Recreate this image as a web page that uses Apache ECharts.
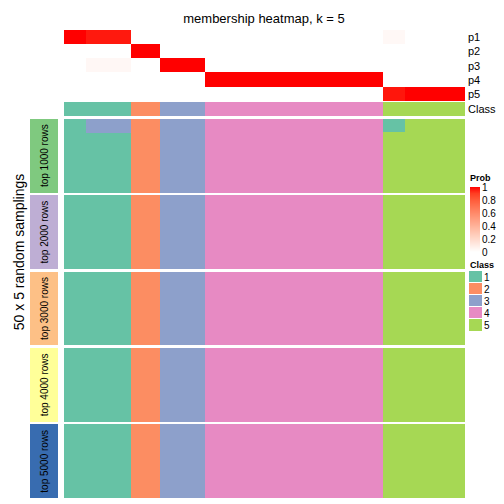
<!DOCTYPE html>
<html><head><meta charset="utf-8">
<script src="https://cdn.jsdelivr.net/npm/echarts@6/dist/echarts.min.js"></script>
<style>html,body{margin:0;padding:0;background:#fff}#c{width:504px;height:504px}#c svg path{shape-rendering:crispEdges}</style>
</head><body><div id="c"></div>
<script>
// ---- data ----
const groupSizes = [3, 6, 4, 6, 24, 3, 8];          // number of samples in each column group (54 total)
const groupClass = [1, 1, 2, 3, 4, 5, 5];           // predicted class per group
const p1 = [1, 0.96, 0, 0, 0, 0.036, 0];            // membership probabilities per group
const p2 = [0, 0, 1, 0, 0, 0, 0];
const p3 = [0, 0.04, 0, 1, 0, 0, 0];
const p4 = [0, 0, 0, 0, 1, 0, 0];
const p5 = [0, 0, 0, 0, 0, 0.964, 1];
const probRows = ['p1', 'p2', 'p3', 'p4', 'p5'];
const blockLabels = ['top 1000 rows', 'top 2000 rows', 'top 3000 rows', 'top 4000 rows', 'top 5000 rows'];
const nSamplings = 50;
// deviations: [block, group, number of samplings (from top), class assigned]
const deviations = [[0, 1, 10, 3], [0, 5, 9, 1]];
const classLabels = ['1', '2', '3', '4', '5'];

// ---- styles ----
const classColors = ['#66C2A5', '#FC8D62', '#8DA0CB', '#E78AC3', '#A6D854'];
const blockColors = ['#7FC97F', '#BEAED4', '#FDC086', '#FFFF99', '#386CB0'];
const probColors = ['#FFFFFF', '#FFECE5', '#FFD9CB', '#FFC6B2', '#FFB299', '#FF9E81', '#FF8969', '#FF7352', '#FF5B3A', '#FF3E22', '#FF0000'];
const FONT = '"Liberation Sans", Arial, Helvetica, sans-serif';

const colGroup = [];
groupSizes.forEach((n, g) => { for (let i = 0; i < n; i++) colGroup.push(g); });
const xCats = colGroup.map((_, i) => i);
const probArr = [p1, p2, p3, p4, p5];

const grids = [], xAxes = [], yAxes = [], series = [];
function hiddenX(gi, data) { xAxes.push({ type: 'category', gridIndex: gi, data: data, show: false }); return xAxes.length - 1; }

// membership grid
grids.push({ left: 64, top: 30, width: 401, height: 71 });
const mx = hiddenX(0, xCats);
yAxes.push({ type: 'category', gridIndex: 0, data: probRows, inverse: true, position: 'right',
  axisLine: { show: false }, axisTick: { show: false },
  axisLabel: { interval: 0, fontSize: 11, color: '#000', margin: 3, fontFamily: FONT } });
const memData = [];
xCats.forEach(c => probArr.forEach((p, r) => memData.push([c, r, p[colGroup[c]]])));
series.push({ type: 'heatmap', xAxisIndex: mx, yAxisIndex: 0, data: memData, progressive: 0, emphasis: { disabled: true } });

// class row
grids.push({ left: 64, top: 102, width: 401, height: 14 });
const cx = hiddenX(1, xCats);
yAxes.push({ type: 'category', gridIndex: 1, data: ['Class'], position: 'right',
  axisLine: { show: false }, axisTick: { show: false },
  axisLabel: { interval: 0, fontSize: 11, color: '#000', margin: 3, fontFamily: FONT } });
series.push({ type: 'heatmap', xAxisIndex: cx, yAxisIndex: 1, data: xCats.map(c => [c, 0, groupClass[colGroup[c]]]), progressive: 0, emphasis: { disabled: true } });

// consensus blocks
const blockTops = [119, 195.4, 271.8, 348.2, 424.6];
const blockH = 73.4;
const rowCats = Array.from({ length: nSamplings }, (_, i) => i);
const classSeries = [1];
blockTops.forEach((t, b) => {
  const gi = grids.length;
  grids.push({ left: 64, top: t, width: 401, height: blockH });
  const xi = hiddenX(gi, xCats);
  yAxes.push({ type: 'category', gridIndex: gi, data: rowCats, inverse: true, show: false });
  const data = [];
  for (let i = 0; i < nSamplings; i++) {
    xCats.forEach(c => {
      const g = colGroup[c];
      let v = groupClass[g];
      deviations.forEach(d => { if (d[0] === b && d[1] === g && i < d[2]) v = d[3]; });
      data.push([c, i, v]);
    });
  }
  classSeries.push(series.length);
  series.push({ type: 'heatmap', xAxisIndex: xi, yAxisIndex: yAxes.length - 1, data: data, progressive: 0, emphasis: { disabled: true } });
});

// annotation blocks
const annSeries = [];
blockTops.forEach((t, b) => {
  const gi = grids.length;
  grids.push({ left: 30, top: t, width: 28, height: blockH });
  const xi = hiddenX(gi, ['a']);
  yAxes.push({ type: 'category', gridIndex: gi, data: ['a'], show: false });
  annSeries.push(series.length);
  series.push({ type: 'heatmap', xAxisIndex: xi, yAxisIndex: yAxes.length - 1, data: [[0, 0, b]], progressive: 0,
    emphasis: { disabled: true },
    label: { show: true, rotate: 90, formatter: blockLabels[b], fontSize: 10, color: '#000', fontFamily: FONT } });
});

// prob legend gradient
const lgi = grids.length;
grids.push({ left: 470, top: 187, width: 10, height: 65 });
const lx = hiddenX(lgi, ['a']);
const nGrad = 65;
yAxes.push({ type: 'category', gridIndex: lgi, data: Array.from({ length: nGrad }, (_, i) => i), show: false });
const gradY = yAxes.length - 1;
yAxes.push({ type: 'value', gridIndex: lgi, min: 0, max: 1, interval: 0.2, position: 'right',
  axisLine: { show: false }, splitLine: { show: false },
  axisTick: { show: true, inside: true, length: 2, lineStyle: { color: '#fff' } },
  axisLabel: { fontSize: 10, color: '#000', margin: 2, fontFamily: FONT } });
yAxes.push({ type: 'value', gridIndex: lgi, min: 0, max: 1, interval: 0.2, position: 'left',
  axisLine: { show: false }, splitLine: { show: false },
  axisTick: { show: true, inside: true, length: 2, lineStyle: { color: '#fff' } },
  axisLabel: { show: false } });
const legSeries = series.length;
series.push({ type: 'heatmap', xAxisIndex: lx, yAxisIndex: gradY, data: Array.from({ length: nGrad }, (_, i) => [0, i, (i + 0.5) / nGrad]), progressive: 0, emphasis: { disabled: true }, z: 1 });

// class legend
const cgi = grids.length;
grids.push({ left: 469, top: 271, width: 13, height: 60 });
const clx = hiddenX(cgi, ['a']);
yAxes.push({ type: 'category', gridIndex: cgi, data: classLabels, inverse: true, position: 'right',
  axisLine: { show: false }, axisTick: { show: false },
  axisLabel: { interval: 0, fontSize: 10, color: '#000', margin: 2, fontFamily: FONT } });
classSeries.push(series.length);
series.push({ type: 'heatmap', xAxisIndex: clx, yAxisIndex: yAxes.length - 1,
  data: classLabels.map((l, i) => [0, i, i + 1]), progressive: 0, emphasis: { disabled: true },
  itemStyle: { borderWidth: 1, borderColor: '#fff' } });

const option = {
  animation: false,
  grid: grids,
  xAxis: xAxes,
  yAxis: yAxes,
  series: series,
  visualMap: [
    { type: 'continuous', show: false, min: 0, max: 1, seriesIndex: [0, legSeries], inRange: { color: probColors } },
    { type: 'piecewise', show: false, seriesIndex: classSeries,
      pieces: classColors.map((c, i) => ({ value: i + 1, color: c })) },
    { type: 'piecewise', show: false, seriesIndex: annSeries,
      pieces: blockColors.map((c, i) => ({ value: i, color: c })) }
  ],
  graphic: [
    { type: 'text', x: 264, y: 18, style: { text: 'membership heatmap, k = 5', font: '13px ' + FONT, fill: '#000', align: 'center', verticalAlign: 'middle' } },
    { type: 'text', x: 19, y: 252, rotation: Math.PI / 2, style: { text: '50 x 5 random samplings', font: '14px ' + FONT, fill: '#000', align: 'center', verticalAlign: 'middle' } },
    { type: 'text', x: 470, y: 178, style: { text: 'Prob', font: 'bold 9px ' + FONT, fill: '#000', align: 'left', verticalAlign: 'middle' } },
    { type: 'text', x: 470, y: 265, style: { text: 'Class', font: 'bold 9px ' + FONT, fill: '#000', align: 'left', verticalAlign: 'middle' } }
  ]
};
const chart = echarts.init(document.getElementById('c'), null, { renderer: 'svg' });
chart.setOption(option);
</script>
</body></html>
